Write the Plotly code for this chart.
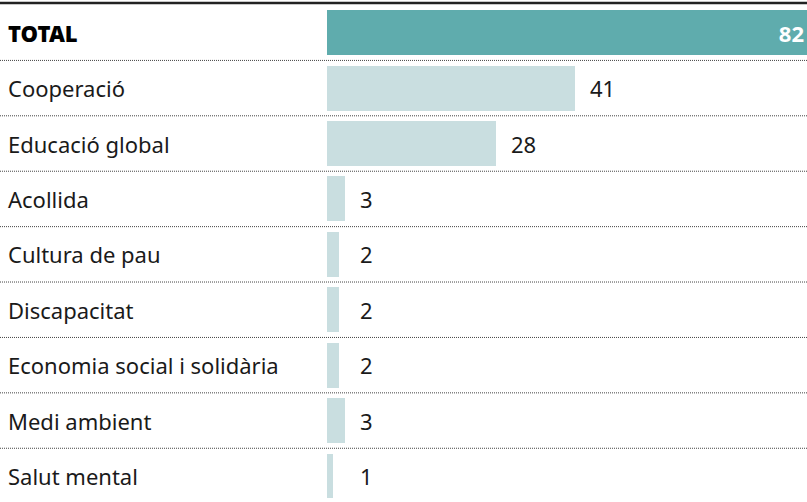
import plotly.graph_objects as go

categories = ["TOTAL", "Cooperació", "Educació global", "Acollida", "Cultura de pau",
              "Discapacitat", "Economia social i solidària", "Medi ambient", "Salut mental"]
values = [82, 41, 28, 3, 2, 2, 2, 3, 1]

TOTAL_COLOR = "#5FACAD"
BAR_COLOR = "#C9DEE0"
TEXT_COLOR = "#1a1a1a"
FONT = "Noto Sans"
FS = 22

W, H = 807, 502
ML, MR, MT, MB = 327, 0, 5, 0
plot_w = W - ML - MR

fig = go.Figure()

# total bar on its own overlay axis
fig.add_trace(go.Bar(
    y=[categories[0]], x=[values[0]], orientation="h", xaxis="x2",
    marker=dict(color=TOTAL_COLOR, line=dict(width=0)), width=0.81,
    text=[str(values[0])], textposition="inside", insidetextanchor="end",
    textfont=dict(color="white", size=FS, family=FONT, weight="bold"),
    hoverinfo="skip",
))
fig.add_trace(go.Bar(
    y=categories[1:], x=values[1:], orientation="h",
    marker=dict(color=BAR_COLOR, line=dict(width=0)), width=0.81,
    hoverinfo="skip",
))

annotations = []
for i, (c, v) in enumerate(zip(categories, values)):
    annotations.append(dict(
        xref="paper", yref="y", x=(6 - ML) / plot_w, y=c, xanchor="left", yanchor="middle",
        text=c, showarrow=False,
        font=dict(size=FS, family=FONT, color="black" if i == 0 else TEXT_COLOR,
                  weight=900 if i == 0 else "normal"),
    ))
    if i > 0:
        annotations.append(dict(
            xref="x", yref="y", x=max(v, 3), y=c, xanchor="left", yanchor="middle",
            xshift=13, text=str(v), showarrow=False,
            font=dict(size=FS, family=FONT, color=TEXT_COLOR),
        ))

plot_h = H - MT - MB
shapes = [dict(type="line", xref="paper", yref="paper", x0=-ML / plot_w, x1=1,
               y0=1 + 2 / plot_h, y1=1 + 2 / plot_h,
               line=dict(color="#222222", width=2.5))]
for k in range(len(categories) - 1):
    shapes.append(dict(type="line", xref="paper", yref="y", x0=-ML / plot_w, x1=1,
                       y0=k + 0.5, y1=k + 0.5,
                       line=dict(color="#444444", width=1, dash="1px,1px")))

fig.update_layout(
    width=W, height=H, margin=dict(l=ML, r=MR, t=MT, b=MB),
    paper_bgcolor="white", plot_bgcolor="white", showlegend=False,
    barmode="overlay", bargap=0,
    xaxis=dict(range=[0, 79.4], visible=False, fixedrange=True),
    xaxis2=dict(range=[0, values[0]], overlaying="x", visible=False, fixedrange=True),
    yaxis=dict(categoryorder="array", categoryarray=categories,
               range=[len(categories) - 0.5 - 0.03, -0.5], visible=False, fixedrange=True),
    annotations=annotations, shapes=shapes,
    font=dict(family=FONT),
)

fig.write_html("out.html", config={"displayModeBar": False},
               post_script="document.body.style.margin='0';")
